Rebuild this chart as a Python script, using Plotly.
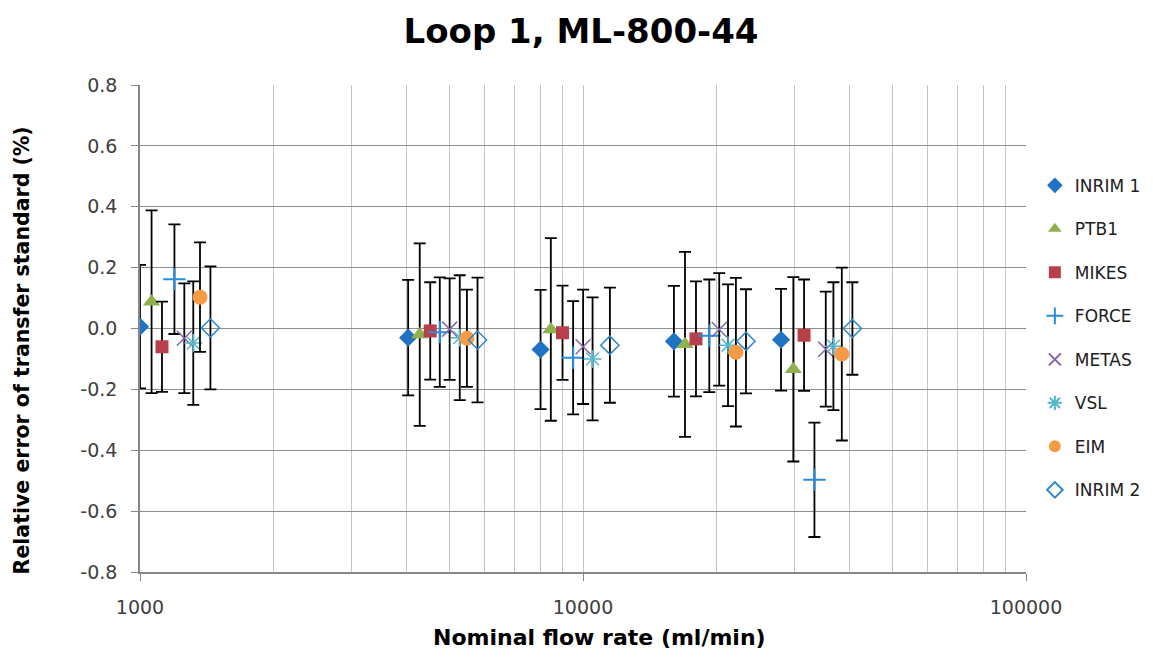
import plotly.graph_objects as go

# ---- data ----
series_names = ["INRIM 1", "PTB1", "MIKES", "FORCE", "METAS", "VSL", "EIM", "INRIM 2"]

inrim1_x = [1000, 4030, 8020, 16040, 27990]
inrim1_y = [0.006, -0.03, -0.069, -0.042, -0.037]
inrim1_e = [0.203, 0.19, 0.196, 0.182, 0.167]

ptb1_x = [1062, 4280, 8460, 16990, 29840]
ptb1_y = [0.088, -0.02, -0.003, -0.052, -0.134]
ptb1_e = [0.30, 0.30, 0.30, 0.304, 0.303]

mikes_x = [1121, 4520, 8990, 17990, 31550]
mikes_y = [-0.06, -0.008, -0.014, -0.034, -0.022]
mikes_e = [0.148, 0.16, 0.155, 0.189, 0.183]

force_x = [1196, 4750, 9500, 19280, 33300]
force_y = [0.162, -0.012, -0.096, -0.024, -0.497]
force_e = [0.18, 0.18, 0.186, 0.185, 0.188]

metas_x = [1259, 5000, 10005, 20300, 35320]
metas_y = [-0.032, -0.002, -0.06, -0.003, -0.068]
metas_e = [0.18, 0.167, 0.188, 0.185, 0.189]

vsl_x = [1319, 5270, 10510, 21250, 36750]
vsl_y = [-0.048, -0.03, -0.1, -0.055, -0.058]
vsl_e = [0.203, 0.205, 0.202, 0.2, 0.21]

eim_x = [1366, 5470, 22140, 38390]
eim_y = [0.103, -0.032, -0.078, -0.084]
eim_e = [0.18, 0.16, 0.244, 0.284]

inrim2_x = [1442, 5780, 11500, 23330, 40560]
inrim2_y = [0.002, -0.038, -0.055, -0.042, 0.0]
inrim2_e = [0.202, 0.205, 0.189, 0.171, 0.152]

x_tick_vals = [1000, 10000, 100000]
x_tick_text = ["1000", "10000", "100000"]
x_minor_vals = [m * 10 ** e for e in (3, 4) for m in range(2, 10)]
y_tick_vals = [-0.8, -0.6, -0.4, -0.2, 0.0, 0.2, 0.4, 0.6, 0.8]
y_tick_text = ["-0.8", "-0.6", "-0.4", "-0.2", "0.0", "0.2", "0.4", "0.6", "0.8"]

chart_title = "Loop 1, ML-800-44"
x_title = "Nominal flow rate (ml/min)"
y_title = "Relative error of transfer standard (%)"

# ---- styles ----
styles = [
    dict(symbol="diamond", color="#1F72C4", size=14, line=dict(width=0)),
    dict(symbol="triangle-up", color="#8FB14E", size=15, line=dict(width=0)),
    dict(symbol="square", color="#B8404A", size=13, line=dict(width=0)),
    dict(symbol="cross-thin-open", color="#2A8CDC", size=16, line=dict(width=2, color="#2A8CDC")),
    dict(symbol="x-thin-open", color="#8466A8", size=15, line=dict(width=1.5, color="#8466A8")),
    dict(symbol="asterisk-open", color="#52B6CC", size=15, line=dict(width=1.5, color="#52B6CC")),
    dict(symbol="circle", color="#F59A45", size=15, line=dict(width=0)),
    dict(symbol="diamond-open", color="#2E88CE", size=14, line=dict(width=1.5, color="#2E88CE")),
]

data = [
    (inrim1_x, inrim1_y, inrim1_e),
    (ptb1_x, ptb1_y, ptb1_e),
    (mikes_x, mikes_y, mikes_e),
    (force_x, force_y, force_e),
    (metas_x, metas_y, metas_e),
    (vsl_x, vsl_y, vsl_e),
    (eim_x, eim_y, eim_e),
    (inrim2_x, inrim2_y, inrim2_e),
]

FONT = "'DejaVu Sans', Verdana, sans-serif"

fig = go.Figure()
for name, (xs, ys, es), st in zip(series_names, data, styles):
    fig.add_trace(go.Scatter(
        x=xs, y=ys, name=name, mode="markers", legendgroup=name,
        marker=st,
        error_y=dict(type="data", array=es, visible=True, color="#000000",
                     thickness=1.8, width=6),
    ))

fig.update_layout(
    width=1153, height=658,
    margin=dict(l=140, r=127, t=85, b=86, autoexpand=False),
    paper_bgcolor="white", plot_bgcolor="white",
    font=dict(family=FONT, color="#404040", size=17),
    title=dict(text="<b>" + chart_title + "</b>", x=581 / 1153, xanchor="center",
               y=0.953, yanchor="middle",
               font=dict(family=FONT, size=34, color="#000000")),
    legend=dict(x=1.010, xanchor="left", y=0.83, yanchor="top",
                font=dict(family=FONT, size=17, color="#202020"),
                tracegroupgap=18.4, itemsizing="constant",
                bgcolor="rgba(0,0,0,0)"),
    showlegend=True,
    annotations=[
        dict(text="<b>" + x_title + "</b>", xref="paper", yref="paper",
             x=0.519, y=-0.1355, xanchor="center", yanchor="middle",
             showarrow=False, font=dict(family=FONT, size=22, color="#000000")),
        dict(text="<b>" + y_title + "</b>", xref="paper", yref="paper",
             x=-0.1332, y=0.455, xanchor="center", yanchor="middle", textangle=-90,
             showarrow=False, font=dict(family=FONT, size=20.5, color="#000000")),
    ],
)

fig.update_xaxes(
    type="log", range=[3, 5],
    tickvals=x_tick_vals, ticktext=x_tick_text,
    ticks="outside", ticklen=7, tickcolor="#868686",
    ticklabelstandoff=10,
    showgrid=True, gridcolor="#C4C4C4", gridwidth=1,
    minor=dict(tickvals=x_minor_vals, showgrid=True, gridcolor="#C4C4C4", gridwidth=1, ticks=""),
    showline=True, linecolor="#868686", linewidth=1.5,
    zeroline=False,
    tickfont=dict(family=FONT, size=19, color="#404040"),
)

fig.update_yaxes(
    range=[-0.8, 0.8],
    tickvals=y_tick_vals, ticktext=y_tick_text,
    ticks="outside", ticklen=7, tickcolor="#868686",
    ticklabelstandoff=10,
    showgrid=True, gridcolor="#8E8E8E", gridwidth=1,
    showline=True, linecolor="#868686", linewidth=1.5,
    zeroline=False,
    tickfont=dict(family=FONT, size=19, color="#404040"),
)

fig.write_html("out.html")
